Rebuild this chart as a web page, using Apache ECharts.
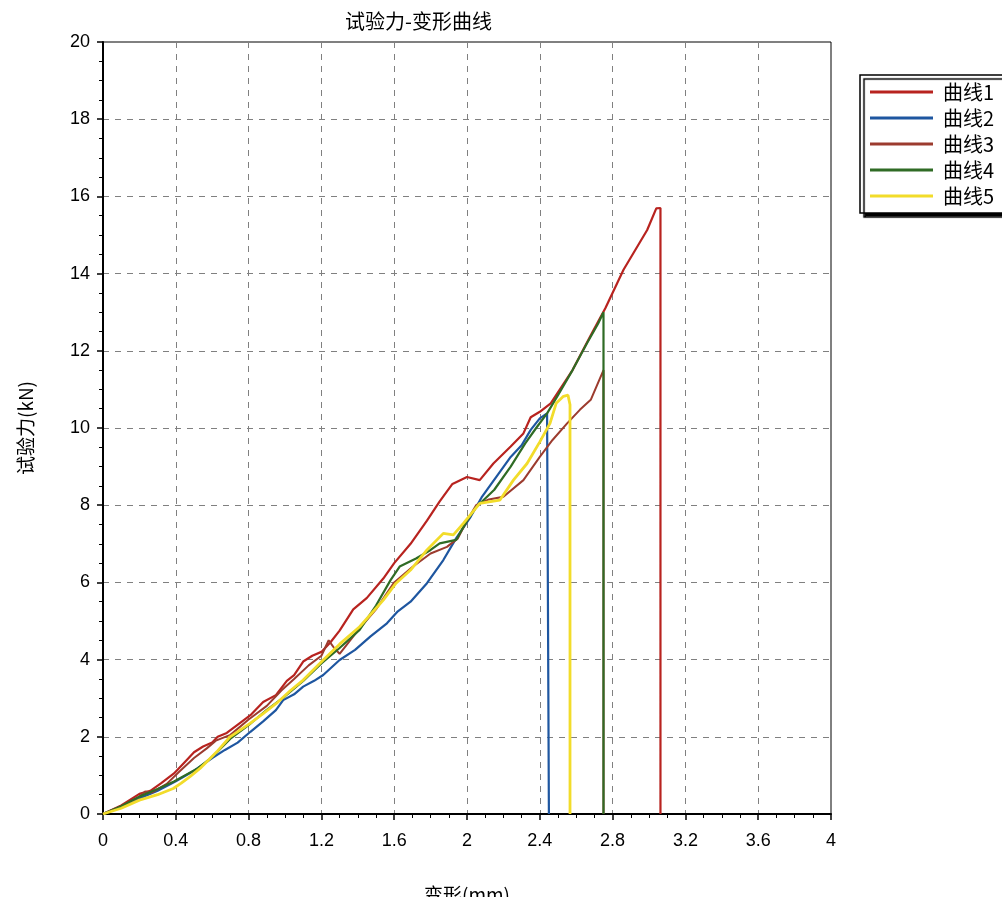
<!DOCTYPE html>
<html>
<head>
<meta charset="utf-8">
<script src="https://cdn.jsdelivr.net/npm/echarts@6/dist/echarts.min.js"></script>
<style>
html,body{margin:0;padding:0;background:#fff;}
#chart{width:1002px;height:897px;}
</style>
</head>
<body>
<div id="chart"></div>
<script>
var seriesNames = ['曲线1', '曲线2', '曲线3', '曲线4', '曲线5'];
var xTicks = [0, 0.4, 0.8, 1.2, 1.6, 2, 2.4, 2.8, 3.2, 3.6, 4];
var yTicks = [0, 2, 4, 6, 8, 10, 12, 14, 16, 18, 20];

var curve1 = [[0,0],[0.1,0.22],[0.2,0.52],[0.26,0.6],[0.32,0.8],[0.39,1.05],[0.45,1.35],[0.5,1.6],[0.55,1.75],[0.6,1.85],[0.63,2.0],[0.68,2.1],[0.75,2.35],[0.81,2.56],[0.88,2.9],[0.95,3.08],[1.01,3.45],[1.05,3.6],[1.1,3.95],[1.15,4.1],[1.2,4.2],[1.25,4.45],[1.3,4.75],[1.375,5.3],[1.45,5.6],[1.54,6.1],[1.6,6.5],[1.69,7.0],[1.78,7.6],[1.85,8.1],[1.92,8.55],[2.0,8.73],[2.07,8.65],[2.145,9.08],[2.24,9.52],[2.31,9.86],[2.35,10.28],[2.4,10.42],[2.46,10.64],[2.58,11.5],[2.68,12.4],[2.76,13.1],[2.86,14.1],[2.99,15.13],[3.04,15.69],[3.063,15.7],[3.063,0]];
var curve2 = [[0,0],[0.1,0.18],[0.2,0.4],[0.3,0.6],[0.4,0.85],[0.5,1.12],[0.6,1.45],[0.67,1.66],[0.74,1.85],[0.81,2.13],[0.88,2.4],[0.95,2.69],[0.99,2.95],[1.05,3.1],[1.1,3.3],[1.16,3.45],[1.21,3.6],[1.3,3.99],[1.385,4.25],[1.47,4.6],[1.56,4.94],[1.62,5.25],[1.69,5.5],[1.78,5.98],[1.87,6.58],[1.94,7.14],[2.02,7.7],[2.08,8.2],[2.16,8.73],[2.24,9.25],[2.3,9.55],[2.35,9.95],[2.4,10.25],[2.44,10.38],[2.45,10.4],[2.45,0]];
var curve3 = [[0,0],[0.1,0.2],[0.2,0.45],[0.23,0.58],[0.27,0.56],[0.35,0.78],[0.42,1.1],[0.5,1.45],[0.57,1.7],[0.62,1.9],[0.7,2.05],[0.8,2.45],[0.9,2.8],[0.98,3.2],[1.05,3.5],[1.13,3.85],[1.2,4.1],[1.24,4.5],[1.27,4.3],[1.3,4.15],[1.4,4.75],[1.5,5.3],[1.6,6.0],[1.7,6.4],[1.8,6.75],[1.89,6.92],[1.95,7.14],[2.0,7.6],[2.05,8.0],[2.12,8.15],[2.2,8.22],[2.31,8.65],[2.4,9.25],[2.47,9.69],[2.55,10.12],[2.62,10.47],[2.68,10.73],[2.75,11.5],[2.75,0]];
var curve4 = [[0,0],[0.1,0.2],[0.2,0.45],[0.3,0.65],[0.39,0.84],[0.45,1.0],[0.52,1.18],[0.58,1.4],[0.63,1.62],[0.7,1.95],[0.8,2.3],[0.9,2.7],[1.0,3.05],[1.1,3.45],[1.2,3.9],[1.3,4.3],[1.41,4.77],[1.5,5.4],[1.58,6.06],[1.63,6.41],[1.72,6.62],[1.8,6.84],[1.85,7.01],[1.94,7.1],[2.0,7.6],[2.05,7.95],[2.09,8.13],[2.15,8.4],[2.24,9.0],[2.32,9.6],[2.38,10.0],[2.44,10.38],[2.5,10.85],[2.58,11.5],[2.66,12.2],[2.72,12.7],[2.75,13.0],[2.75,0]];
var curve5 = [[0,0],[0.1,0.15],[0.2,0.36],[0.3,0.5],[0.386,0.66],[0.43,0.8],[0.478,0.97],[0.533,1.18],[0.58,1.4],[0.625,1.61],[0.698,2.0],[0.808,2.35],[0.88,2.6],[0.954,2.87],[1.03,3.2],[1.1,3.47],[1.21,3.99],[1.3,4.4],[1.41,4.85],[1.54,5.54],[1.61,5.98],[1.69,6.32],[1.78,6.84],[1.87,7.27],[1.925,7.23],[1.98,7.53],[2.07,8.05],[2.18,8.13],[2.255,8.65],[2.33,9.08],[2.40,9.64],[2.456,10.12],[2.49,10.64],[2.53,10.82],[2.555,10.85],[2.566,10.6],[2.566,0]];

var colors = ['#B8231F', '#1E56A0', '#9C3B2E', '#2F6B25', '#F2DC2A'];
var widths = [2.2, 2.2, 2, 2.2, 2.8];
var allData = [curve1, curve2, curve3, curve4, curve5];

var font = '"Liberation Sans", Arial, "Noto Sans CJK SC", sans-serif';
var chart = echarts.init(document.getElementById('chart'), null, {renderer: 'canvas'});

var series = allData.map(function (d, i) {
  return {
    name: seriesNames[i],
    type: 'line',
    data: d,
    showSymbol: false,
    symbol: 'none',
    smooth: false,
    animation: false,
    lineStyle: {color: colors[i], width: widths[i]},
    itemStyle: {color: colors[i]},
    z: 2 + i
  };
});

chart.setOption({
  animation: false,
  backgroundColor: '#fff',
  title: {
    text: '试验力-变形曲线',
    left: 340,
    top: 6,
    textStyle: {fontFamily: '"Noto Sans CJK SC", sans-serif', fontSize: 20, fontWeight: 'normal', color: '#000'}
  },
  legend: {
    orient: 'vertical',
    left: 860,
    top: 75,
    padding: [7, 40, 7, 10],
    itemWidth: 63,
    itemHeight: 3,
    itemGap: 6,
    icon: 'rect',
    backgroundColor: '#fff',
    borderColor: '#000',
    borderWidth: 1.5,
    borderRadius: 0,
    shadowColor: '#000',
    shadowBlur: 1,
    shadowOffsetX: 4,
    shadowOffsetY: 4,
    data: seriesNames,
    textStyle: {fontFamily: '"Noto Sans CJK SC", sans-serif', fontSize: 20, lineHeight: 20, color: '#000', padding: [0, 0, 0, 5]}
  },
  grid: {
    left: 103, right: 171, top: 42, bottom: 83,
    containLabel: false,
    outerBoundsMode: 'none',
    show: true, borderColor: '#000', borderWidth: 1, backgroundColor: 'transparent'
  },
  xAxis: {
    type: 'value',
    min: xTicks[0],
    max: xTicks[xTicks.length - 1],
    interval: 0.4,
    name: '变形(mm)',
    nameLocation: 'middle',
    nameGap: 71,
    nameTextStyle: {fontFamily: '"Noto Sans CJK SC", sans-serif', fontSize: 19, color: '#000', verticalAlign: 'top'},
    axisLine: {show: true, onZero: false, lineStyle: {color: '#000', width: 2}},
    axisTick: {show: true, length: 6, lineStyle: {color: '#000', width: 1.5}},
    minorTick: {show: true, splitNumber: 4, length: 4, lineStyle: {color: '#000', width: 1}},
    axisLabel: {
      margin: 18, fontSize: 18, color: '#000', fontFamily: font,
      formatter: function (v) { return String(parseFloat(v.toFixed(1))); }
    },
    splitLine: {show: true, lineStyle: {color: '#808080', type: [6, 6], width: 1}}
  },
  yAxis: {
    type: 'value',
    min: yTicks[0],
    max: yTicks[yTicks.length - 1],
    interval: 2,
    name: '试验力(kN)',
    nameLocation: 'middle',
    nameGap: 68,
    nameRotate: 90,
    nameTextStyle: {fontFamily: '"Noto Sans CJK SC", sans-serif', fontSize: 19, color: '#000'},
    axisLine: {show: true, onZero: false, lineStyle: {color: '#000', width: 2}},
    axisTick: {show: true, length: 6, lineStyle: {color: '#000', width: 1.5}},
    minorTick: {show: true, splitNumber: 4, length: 4, lineStyle: {color: '#000', width: 1}},
    axisLabel: {margin: 13, fontSize: 18, color: '#000', fontFamily: font},
    splitLine: {show: true, lineStyle: {color: '#808080', type: [6, 6], width: 1}}
  },
  series: series
});
</script>
</body>
</html>
